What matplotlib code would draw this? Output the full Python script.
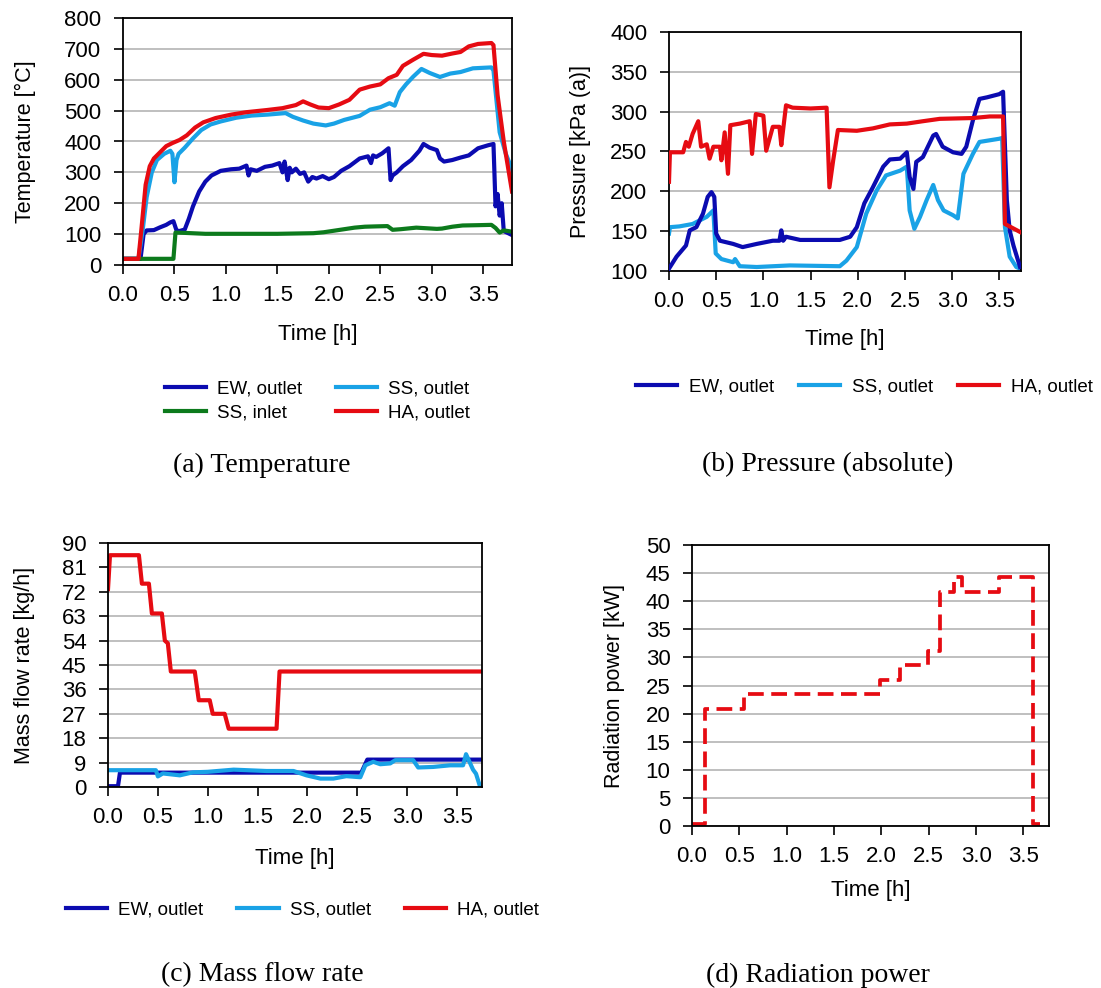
import matplotlib
matplotlib.use("Agg")
import matplotlib.pyplot as plt
import numpy as np

plt.rcParams.update({
    "font.family": "Liberation Sans", "font.size": 14,
    "axes.linewidth": 1.3, "xtick.major.size": 6.5, "ytick.major.size": 6.5,
    "xtick.major.width": 1.2, "ytick.major.width": 1.2,
    "xtick.major.pad": 8, "ytick.major.pad": 9,
    "xtick.labelsize": 16, "ytick.labelsize": 16,
})
EW, SS, SSIN, HA = "#0b0bb0", "#19a2e6", "#0c7a1c", "#e60b12"
GRID = "#b4b4b4"
W, H = 1101, 988

# ---------------------------------------------------------------- data
# (a) temperature [°C]
t_ew_a = [0, 0.17, 0.2, 0.23, 0.3, 0.36, 0.42, 0.46, 0.49, 0.52, 0.55, 0.6, 0.64, 0.68,
          0.74, 0.8, 0.86, 0.95, 1.05, 1.13, 1.2, 1.22, 1.24, 1.3, 1.38, 1.45, 1.52, 1.55,
          1.57, 1.6, 1.62, 1.64, 1.68, 1.72, 1.76, 1.8, 1.84, 1.88, 1.94, 2.0, 2.05, 2.12,
          2.2, 2.3, 2.38, 2.41, 2.43, 2.46, 2.52, 2.58, 2.6, 2.62, 2.66, 2.72, 2.8, 2.88,
          2.92, 2.98, 3.05, 3.08, 3.12, 3.2, 3.28, 3.36, 3.45, 3.55, 3.6, 3.62, 3.64, 3.66,
          3.68, 3.7, 3.78]
temp_ew = [20, 20, 100, 112, 113, 122, 130, 138, 142, 112, 110, 115, 150, 190,
           238, 270, 290, 305, 310, 312, 322, 290, 310, 305, 318, 322, 330, 300,
           335, 275, 315, 300, 312, 295, 300, 270, 285, 280, 288, 278, 285, 305,
           320, 345, 352, 330, 355, 350, 362, 378, 275, 290, 300, 320, 340, 370,
           392, 380, 372, 345, 335, 340, 348, 355, 378, 388, 392, 190, 230, 160,
           200, 110, 97]
t_ss_a = [0, 0.15, 0.19, 0.23, 0.28, 0.33, 0.4, 0.46, 0.48, 0.5, 0.52, 0.54, 0.6, 0.68,
          0.76, 0.85, 0.95, 1.1, 1.25, 1.4, 1.58, 1.65, 1.75, 1.85, 1.97, 2.05, 2.15, 2.3,
          2.4, 2.5, 2.59, 2.64, 2.69, 2.75, 2.82, 2.9, 2.98, 3.08, 3.18, 3.28, 3.4, 3.58,
          3.6, 3.66, 3.72, 3.78]
temp_ss = [20, 20, 110, 220, 300, 340, 360, 370, 360, 268, 340, 360, 380, 410,
           437, 455, 465, 477, 484, 487, 492, 480, 468, 458, 452, 458, 470, 483,
           503, 511, 524, 516, 560, 585, 610, 635, 622, 609, 620, 625, 637, 640,
           630, 430, 360, 310]
t_in_a = [0, 0.49, 0.51, 0.6, 0.8, 1.0, 1.5, 1.85, 1.95, 2.05, 2.15, 2.25, 2.35, 2.45,
          2.57, 2.62, 2.7, 2.85, 2.95, 3.05, 3.1, 3.2, 3.3, 3.45, 3.58, 3.62, 3.66, 3.7, 3.78]
temp_in = [20, 20, 105, 104, 101, 101, 101, 103, 106, 111, 116, 121, 124, 125,
           126, 114, 116, 121, 119, 117, 118, 124, 128, 129, 130, 120, 105, 112, 108]
t_ha_a = [0, 0.15, 0.18, 0.22, 0.26, 0.3, 0.36, 0.42, 0.48, 0.55, 0.62, 0.7, 0.78, 0.9,
          1.05, 1.2, 1.4, 1.55, 1.68, 1.75, 1.82, 1.9, 2.0, 2.1, 2.2, 2.3, 2.4, 2.5, 2.58,
          2.66, 2.72, 2.82, 2.92, 3.0, 3.1, 3.2, 3.28, 3.36, 3.45, 3.58, 3.6, 3.64, 3.7, 3.78]
temp_ha = [20, 20, 120, 260, 320, 345, 365, 385, 395, 405, 420, 445, 462, 476,
           487, 495, 502, 508, 518, 530, 520, 510, 508, 520, 535, 568, 578, 585, 605,
           616, 645, 665, 684, 680, 678, 685, 690, 708, 716, 719, 712, 550, 400, 238]

# (b) pressure [kPa (a)]
t_ew_b = [0, 0.08, 0.18, 0.22, 0.29, 0.36, 0.41, 0.45, 0.48, 0.5, 0.54, 0.68, 0.78, 0.93,
          1.1, 1.17, 1.19, 1.21, 1.24, 1.39, 1.63, 1.81, 1.92, 1.99, 2.07, 2.16, 2.27, 2.34,
          2.45, 2.52, 2.55, 2.59, 2.62, 2.69, 2.8, 2.83, 2.9, 3.01, 3.1, 3.15, 3.22, 3.29,
          3.37, 3.5, 3.54, 3.58, 3.61, 3.65, 3.72]
p_ew = [103, 118, 132, 151, 155, 172, 193, 199, 193, 147, 138, 134, 130, 134,
        138, 138, 151, 138, 143, 139, 139, 139, 143, 155, 185, 205, 231, 240,
        241, 249, 218, 203, 237, 243, 270, 272, 256, 249, 247, 256, 289, 316,
        318, 322, 325, 189, 151, 132, 105]
t_ss_b = [0, 0.01, 0.11, 0.25, 0.4, 0.47, 0.495, 0.555, 0.68, 0.7, 0.75, 0.93, 1.28,
          1.81, 1.88, 1.99, 2.09, 2.2, 2.3, 2.45, 2.52, 2.55, 2.6, 2.66, 2.73, 2.8, 2.85,
          2.91, 3.01, 3.06, 3.12, 3.22, 3.29, 3.5, 3.53, 3.56, 3.61, 3.68, 3.72]
p_ss = [147, 155, 156, 159, 168, 176, 122, 115, 111, 115, 106, 105, 107,
        106, 113, 130, 172, 201, 220, 226, 231, 176, 153, 168, 189, 208, 189,
        176, 170, 166, 222, 247, 262, 266, 267, 155, 118, 105, 103]
t_ha_b = [0, 0.01, 0.15, 0.18, 0.21, 0.25, 0.31, 0.34, 0.4, 0.43, 0.47, 0.54, 0.555,
          0.59, 0.625, 0.65, 0.75, 0.855, 0.88, 0.92, 1.0, 1.03, 1.1, 1.17, 1.19, 1.24,
          1.31, 1.5, 1.67, 1.7, 1.74, 1.79, 1.99, 2.16, 2.34, 2.52, 2.69, 2.87, 3.22,
          3.4, 3.54, 3.56, 3.72]
p_ha = [212, 249, 249, 262, 256, 272, 288, 256, 259, 241, 256, 256, 239,
        274, 222, 283, 285, 288, 247, 297, 295, 251, 281, 281, 258, 308,
        305, 304, 305, 205, 239, 277, 276, 279, 284, 285, 288, 291, 292,
        294, 294, 159, 149]

# (c) mass flow rate [kg/h]
t_ew_c = [0, 0.1, 0.12, 2.54, 2.6, 3.75]
m_ew = [0.3, 0.3, 5.3, 5.3, 10.1, 10.1]
t_ss_c = [0, 0.48, 0.5, 0.55, 0.72, 0.85, 1.0, 1.26, 1.59, 1.86, 1.99, 2.13, 2.26, 2.39,
          2.53, 2.58, 2.66, 2.73, 2.83, 2.88, 3.06, 3.11, 3.26, 3.43, 3.56, 3.59, 3.66,
          3.69, 3.73]
m_ss = [6.2, 6.2, 3.9, 5.0, 4.3, 5.4, 5.6, 6.4, 5.9, 5.9, 4.3, 3.1, 3.1, 4.0,
        3.6, 8.0, 9.3, 8.4, 8.7, 9.9, 9.9, 7.2, 7.4, 8.0, 8.0, 12.1, 6.4, 4.9, 0.2]
t_ha_c = [0, 0.02, 0.31, 0.34, 0.41, 0.44, 0.54, 0.57, 0.6, 0.63, 0.87, 0.91, 1.02,
          1.05, 1.17, 1.21, 1.69, 1.72, 3.75]
m_ha = [73, 85.5, 85.5, 75, 75, 64, 64, 54, 53, 42.6, 42.6, 32, 32, 27, 27, 21.5,
        21.5, 42.6, 42.6]

# (d) radiation power [kW], step changes
t_rad = [0, 0.135, 0.545, 1.99, 2.2, 2.49, 2.62, 2.77, 2.85, 3.24, 3.6, 3.67]
q_rad = [0.3, 20.8, 23.5, 26.0, 28.7, 31.2, 41.6, 44.3, 41.6, 44.3, 0.3, 0.3]

legend_labels = ["EW, outlet", "SS, outlet", "SS, inlet", "HA, outlet"]
captions = ["(a) Temperature", "(b) Pressure (absolute)",
            "(c) Mass flow rate", "(d) Radiation power"]


def px_axes(fig, left, top, right, bottom):
    return fig.add_axes([left / W, 1 - bottom / H, (right - left) / W, (bottom - top) / H])


def style(ax, xmax, ylim, yticks, ylabel, xlabelpad, ylabelpad=21):
    ax.set_xlim(0, xmax); ax.set_ylim(*ylim)
    ax.set_xticks(np.arange(0, 3.6, 0.5))
    ax.set_xticklabels([f"{v:.1f}" for v in np.arange(0, 3.6, 0.5)])
    ax.set_yticks(yticks)
    ax.yaxis.grid(True, color=GRID, lw=1.2); ax.set_axisbelow(True)
    ax.set_xlabel("Time [h]", fontsize=16, labelpad=xlabelpad)
    ax.set_ylabel(ylabel, fontsize=15.5, labelpad=ylabelpad)


fig = plt.figure(figsize=(W / 100, H / 100), dpi=100)
LW = 3.0
leg_kw = dict(frameon=False, fontsize=13.5, handlelength=2.2, handletextpad=0.6,
              labelspacing=0.35)

# ---------------------------------------------------------------- (a)
ax = px_axes(fig, 123, 18, 512, 265)
l1, = ax.plot(t_ew_a, temp_ew, color=EW, lw=LW)
l2, = ax.plot(t_ss_a, temp_ss, color=SS, lw=LW)
l3, = ax.plot(t_in_a, temp_in, color=SSIN, lw=LW)
l4, = ax.plot(t_ha_a, temp_ha, color=HA, lw=LW)
style(ax, 3.78, (0, 800), range(0, 801, 100), "Temperature [°C]", 13, 20)
ax.legend([l1, l3, l2, l4], [legend_labels[i] for i in (0, 2, 1, 3)], ncol=2,
          loc="upper center", bbox_to_anchor=(0.5, -0.4), columnspacing=1.8, **leg_kw)

# ---------------------------------------------------------------- (b)
ax = px_axes(fig, 669, 32, 1021, 271)
l1, = ax.plot(t_ew_b, p_ew, color=EW, lw=LW, zorder=3)
l2, = ax.plot(t_ss_b, p_ss, color=SS, lw=LW, zorder=2)
l4, = ax.plot(t_ha_b, p_ha, color=HA, lw=LW, zorder=4)
style(ax, 3.73, (100, 400), range(100, 401, 50), "Pressure [kPa (a)]", 12, 14)
ax.legend([l1, l2, l4], [legend_labels[i] for i in (0, 1, 3)], ncol=3,
          loc="upper center", bbox_to_anchor=(0.555, -0.38), columnspacing=1.35, **leg_kw)

# ---------------------------------------------------------------- (c)
ax = px_axes(fig, 108, 543, 482, 787)
l1, = ax.plot(t_ew_c, m_ew, color=EW, lw=LW)
l2, = ax.plot(t_ss_c, m_ss, color=SS, lw=LW)
l4, = ax.plot(t_ha_c, m_ha, color=HA, lw=LW)
style(ax, 3.75, (0, 90), range(0, 91, 9), "Mass flow rate [kg/h]", 14, 19)
ax.legend([l1, l2, l4], [legend_labels[i] for i in (0, 1, 3)], ncol=3,
          loc="upper center", bbox_to_anchor=(0.52, -0.4), columnspacing=1.8, **leg_kw)

# ---------------------------------------------------------------- (d)
ax = px_axes(fig, 692, 545, 1049, 826)
ax.plot(t_rad, q_rad, color=HA, lw=2.7, drawstyle="steps-post", ls=(0, (4.2, 2.0)))
style(ax, 3.77, (0, 50), range(0, 51, 5), "Radiation power [kW]", 9, 15)

for (x, y), cap in zip([(262, 465), (828, 465), (262, 975), (818, 975)], captions):
    fig.text(x / W, 1 - y / H, cap, ha="center", va="center",
             family="Liberation Serif", fontsize=20)

fig.savefig("out.png", dpi=100)
